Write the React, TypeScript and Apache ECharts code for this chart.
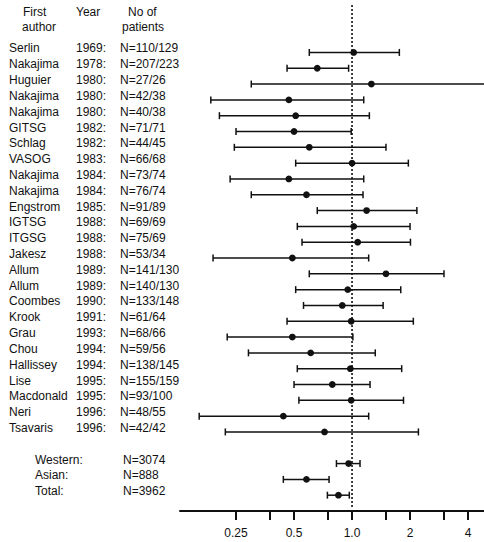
import React, { useEffect, useRef } from "react";
import * as echarts from "echarts";

const authors = ["Serlin", "Nakajima", "Huguier", "Nakajima", "Nakajima", "GITSG", "Schlag", "VASOG", "Nakajima", "Nakajima", "Engstrom", "IGTSG", "ITGSG", "Jakesz", "Allum", "Allum", "Coombes", "Krook", "Grau", "Chou", "Hallissey", "Lise", "Macdonald", "Neri", "Tsavaris"];
const years = [1969, 1978, 1980, 1980, 1980, 1982, 1982, 1983, 1984, 1984, 1985, 1988, 1988, 1988, 1989, 1989, 1990, 1991, 1993, 1994, 1994, 1995, 1995, 1996, 1996];
const patients = ["110/129", "207/223", "27/26", "42/38", "40/38", "71/71", "44/45", "66/68", "73/74", "76/74", "91/89", "69/69", "75/69", "53/34", "141/130", "140/130", "133/148", "61/64", "68/66", "59/56", "138/145", "155/159", "93/100", "48/55", "42/42"];
const studyOR = [1.02, 0.66, 1.26, 0.47, 0.51, 0.5, 0.6, 1.0, 0.47, 0.58, 1.19, 1.02, 1.07, 0.49, 1.5, 0.95, 0.89, 0.99, 0.49, 0.61, 0.98, 0.79, 0.99, 0.44, 0.72];
const studyLow = [0.6, 0.46, 0.3, 0.185, 0.205, 0.25, 0.245, 0.51, 0.233, 0.3, 0.66, 0.52, 0.55, 0.19, 0.6, 0.51, 0.56, 0.46, 0.225, 0.29, 0.52, 0.5, 0.53, 0.161, 0.22];
const studyHigh = [1.76, 0.96, 6.0, 1.15, 1.23, 0.99, 1.5, 1.96, 1.15, 1.14, 2.17, 2.0, 2.01, 1.22, 3.0, 1.79, 1.45, 2.08, 1.01, 1.32, 1.81, 1.24, 1.85, 1.22, 2.21];

const groups = ["Western:", "Asian:", "Total:"];
const groupN = ["3074", "888", "3962"];
const groupOR = [0.96, 0.58, 0.85];
const groupLow = [0.83, 0.44, 0.745];
const groupHigh = [1.1, 0.76, 0.968];

const tickValues = [0.25, 0.375, 0.5, 0.75, 1, 1.5, 2, 3, 4];
const tickLabels = [0.25, 0.5, 1, 2, 4];

const FONT = "Liberation Sans, Arial, sans-serif";

export default function App() {
  const ref = useRef<HTMLDivElement>(null);
  useEffect(() => {
    if (!ref.current) return;
    const chart = echarts.init(ref.current, null, { renderer: "svg" });
    const groupStart = authors.length + 1;
    const data: number[][] = [];
    studyOR.forEach((v, i) => data.push([studyLow[i], v, studyHigh[i], i]));
    groupOR.forEach((v, i) => data.push([groupLow[i], v, groupHigh[i], groupStart + i]));

    const option: any = {
      animation: false,
      backgroundColor: "#fff",
      grid: { left: 180, right: 0, top: 5, bottom: 31, outerBoundsMode: "none", containLabel: false },
      xAxis: {
        type: "log",
        logBase: 2,
        min: 0.128,
        max: 4.84,
        axisLine: { show: true, onZero: false, lineStyle: { color: "#111", width: 2 } },
        axisTick: { show: true, length: 9, lineStyle: { color: "#111", width: 2 }, customValues: tickValues },
        axisLabel: {
          customValues: tickLabels,
          margin: 16,
          color: "#111",
          fontFamily: FONT,
          fontSize: 12,
          formatter: (v: number) => {
            const r = Math.round(v * 1000) / 1000;
            return r === 1 ? "1.0" : String(r);
          },
        },
        splitLine: { show: false },
        minorTick: { show: false },
      },
      yAxis: {
        type: "value",
        inverse: true,
        min: -3,
        max: 29,
        interval: 1,
        axisLine: { show: false },
        axisTick: { show: false },
        splitLine: { show: false },
        axisLabel: {
          show: true,
          align: "left",
          margin: 171,
          verticalAlign: "middle",
          padding: [0, 0, 8, 0],
          color: "#111",
          fontFamily: FONT,
          fontSize: 12,
          formatter: (v: number) => {
            if (v >= 0 && v < authors.length) {
              return `{a|${authors[v]}}{b|${years[v]}:}{c|N=${patients[v]}}`;
            }
            const g = v - groupStart;
            if (g >= 0 && g < groups.length) {
              return `{p|}{s|${groups[g]}}{c|N=${groupN[g]}}`;
            }
            return "";
          },
          rich: {
            a: { width: 67, fontFamily: FONT, fontSize: 12, color: "#111" },
            b: { width: 44, fontFamily: FONT, fontSize: 12, color: "#111" },
            c: { fontFamily: FONT, fontSize: 12, color: "#111" },
            p: { width: 26 },
            s: { width: 88, fontFamily: FONT, fontSize: 12, color: "#111" },
          },
        },
      },
      graphic: [
        { type: "text", left: 23, top: 6, style: { text: "First", font: `12px ${FONT}`, fill: "#111" } },
        { type: "text", left: 22, top: 21, style: { text: "author", font: `12px ${FONT}`, fill: "#111" } },
        { type: "text", left: 76, top: 6, style: { text: "Year", font: `12px ${FONT}`, fill: "#111" } },
        { type: "text", left: 128, top: 6, style: { text: "No of", font: `12px ${FONT}`, fill: "#111" } },
        { type: "text", left: 122, top: 21, style: { text: "patients", font: `12px ${FONT}`, fill: "#111" } },
      ],
      series: [
        {
          type: "line",
          data: [[1, -3], [1, 28.8]],
          symbol: "none",
          lineStyle: { color: "#111", width: 1.6, type: [2, 2] },
          silent: true,
          z: 1,
        },
        {
          type: "custom",
          data,
          encode: { x: [0, 1, 2], y: 3 },
          z: 3,
          renderItem: (params: any, api: any) => {
            const y = api.value(3);
            const lo = api.coord([api.value(0), y]);
            const pt = api.coord([api.value(1), y]);
            const hi = api.coord([api.value(2), y]);
            const cap = 3.5;
            const ls = { stroke: "#111", lineWidth: 1.5 };
            return {
              type: "group",
              children: [
                { type: "line", shape: { x1: lo[0], y1: lo[1], x2: hi[0], y2: hi[1] }, style: ls },
                { type: "line", shape: { x1: lo[0], y1: lo[1] - cap, x2: lo[0], y2: lo[1] + cap }, style: ls },
                { type: "line", shape: { x1: hi[0], y1: hi[1] - cap, x2: hi[0], y2: hi[1] + cap }, style: ls },
                { type: "circle", shape: { cx: pt[0], cy: pt[1], r: 3.4 }, style: { fill: "#111" } },
              ],
            };
          },
        },
      ],
    };
    chart.setOption(option);
    return () => chart.dispose();
  }, []);
  return <div ref={ref} style={{ position: "absolute", left: 0, top: 0, width: 484, height: 542 }} />;
}
